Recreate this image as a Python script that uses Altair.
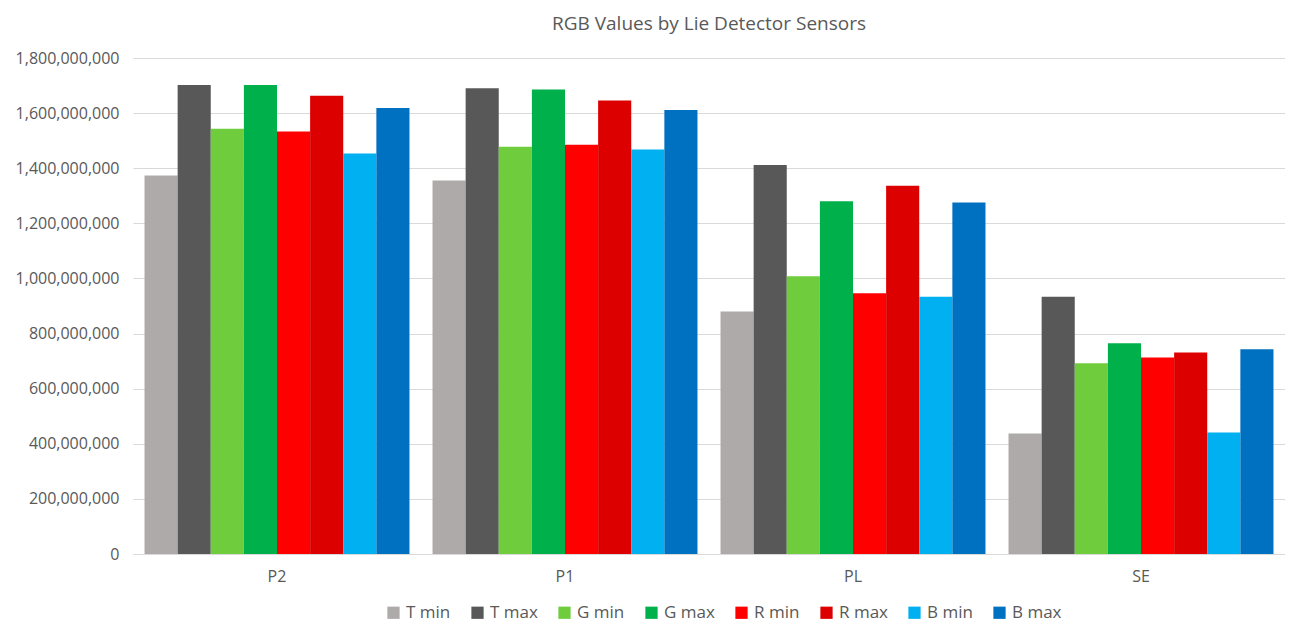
import altair as alt
import pandas as pd

sensors = ["P2", "P1", "PL", "SE"]
series = ["T min", "T max", "G min", "G max", "R min", "R max", "B min", "B max"]
colors = ["#AEAAAA", "#585858", "#6FCD3D", "#00B04A", "#FF0000", "#DC0000", "#00B0F0", "#0070C0"]

t_min = [1374e6, 1355e6, 880e6, 437e6]
t_max = [1702e6, 1690e6, 1412e6, 934e6]
g_min = [1543e6, 1478e6, 1008e6, 692e6]
g_max = [1702e6, 1686e6, 1280e6, 765e6]
r_min = [1533e6, 1485e6, 946e6, 713e6]
r_max = [1663e6, 1646e6, 1336e6, 731e6]
b_min = [1453e6, 1468e6, 934e6, 441e6]
b_max = [1619e6, 1611e6, 1276e6, 743e6]

y_ticks = [0, 200e6, 400e6, 600e6, 800e6, 1000e6, 1200e6, 1400e6, 1600e6, 1800e6]

values = [t_min, t_max, g_min, g_max, r_min, r_max, b_min, b_max]
rows = []
for s, vals in zip(series, values):
    for sensor, v in zip(sensors, vals):
        rows.append({"Sensor": sensor, "Series": s, "Value": v})
df = pd.DataFrame(rows)

FONT = "Open Sans"
TXT = "#595959"

chart = alt.Chart(df).mark_bar().encode(
    x=alt.X("Sensor:N", sort=sensors, title=None,
            scale=alt.Scale(paddingInner=0.08, paddingOuter=0.04),
            axis=alt.Axis(labelAngle=0, labelFontSize=16, labelColor=TXT, labelFont=FONT,
                          ticks=False, domainColor="#D9D9D9", labelPadding=14, grid=False)),
    xOffset=alt.XOffset("Series:N", sort=series, scale=alt.Scale(paddingInner=0, paddingOuter=0)),
    y=alt.Y("Value:Q", title=None,
            scale=alt.Scale(domain=[0, 1800e6], nice=False),
            axis=alt.Axis(values=y_ticks, format=",d", labelFontSize=16, labelColor=TXT,
                          labelFont=FONT, ticks=False, domain=False, gridColor="#D9D9D9",
                          gridWidth=1.2, labelPadding=14)),
    color=alt.Color("Series:N", sort=series,
                    scale=alt.Scale(domain=series, range=colors),
                    legend=alt.Legend(title=None, orient="none", direction="horizontal",
                                      legendX=252, legendY=546, columns=8,
                                      symbolType="square", symbolSize=150,
                                      symbolStrokeWidth=0, labelFontSize=17,
                                      labelColor=TXT, labelFont=FONT, columnPadding=18,
                                      labelOffset=4)),
).properties(
    width=1152,
    height=496,
    title=alt.TitleParams("RGB Values by Lie Detector Sensors", fontSize=19, font=FONT,
                          color=TXT, fontWeight="normal", anchor="middle", offset=16),
    padding={"left": 125, "top": 50, "right": 0, "bottom": 71},
    autosize=alt.AutoSizeParams(type="none"),
).configure_view(stroke=None)

chart.save("out.html", embed_options={"renderer": "svg", "actions": False})
